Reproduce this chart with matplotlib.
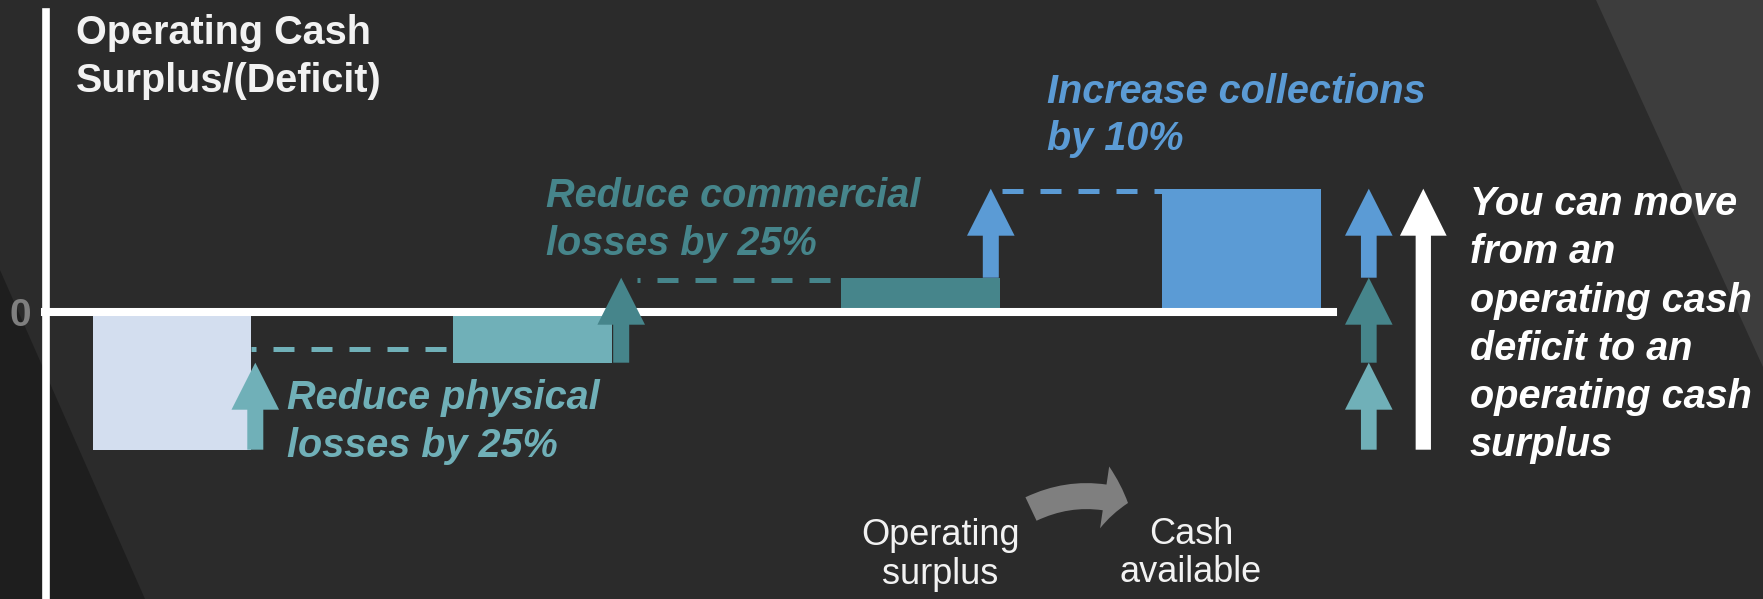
import matplotlib.pyplot as plt
from matplotlib.patches import Polygon, FancyArrowPatch
from matplotlib.transforms import IdentityTransform

# --- chart values ---
steps = ["Current", "Physical losses", "Commercial losses", "Collections"]
start_value = -13.8
gains = [8.7, 8.5, 8.9]
guide_levels = [-3.7, 3.2, 12.05]

title_lines = ["Operating Cash", "Surplus/(Deficit)"]
step_labels = [["Reduce physical", "losses by 25%"],
               ["Reduce commercial", "losses by 25%"],
               ["Increase collections", "by 10%"]]
summary_lines = ["You can move", "from an", "operating cash",
                 "deficit to an", "operating cash", "surplus"]
flow_labels = [["Operating", "surplus"], ["Cash", "available"]]

levels = [start_value]
for g in gains:
    levels.append(levels[-1] + g)

# --- layout / style ---
W, H = 1763, 599
ZERO_PX = 311.7
PX_PER_UNIT = 10.0
bar_x = [172, 532.5, 920.5, 1241.5]
bar_w = 158.5
step_arrow_x = [255.3, 621.2, 990.8]
guide_span = [(251, 446), (637, 830), (992, 1175)]
stack_x = 1368.8
total_x = 1423.3

BG = "#2B2B2B"
colors = ["#D3DEEF", "#70B0B8", "#46858B", "#5B9BD5"]
FONT = "Liberation Sans"

fig = plt.figure(figsize=(W / 100, H / 100), dpi=100, facecolor=BG)


def fpos(x, y):
    return x / W, 1 - y / H


# background shapes
fig.add_artist(Polygon([fpos(0, 270), fpos(145, H), fpos(0, H)], closed=True,
                       transform=fig.transFigure, color="#1E1E1E", lw=0, zorder=-2))
fig.add_artist(Polygon([fpos(1596, 0), fpos(W, 0), fpos(W, 367)], closed=True,
                       transform=fig.transFigure, color="#3D3D3D", lw=0, zorder=-2))

ax = fig.add_axes([0, 0, 1, 1])
ax.patch.set_alpha(0)
ax.set_xlim(0, W)
ax.set_ylim(-(H - ZERO_PX) / PX_PER_UNIT, ZERO_PX / PX_PER_UNIT)

for s in ["top", "right"]:
    ax.spines[s].set_visible(False)
ax.spines["left"].set_position(("data", 45.5))
ax.spines["left"].set_bounds(-(H - ZERO_PX) / PX_PER_UNIT, (ZERO_PX - 12) / PX_PER_UNIT)
ax.spines["left"].set_linewidth(5.5)
ax.spines["left"].set_color("white")
ax.spines["bottom"].set_position(("data", 0))
ax.spines["bottom"].set_bounds(45, 1333)
ax.spines["bottom"].set_linewidth(5.8)
ax.spines["bottom"].set_color("white")
ax.set_xticks([])
ax.set_yticks([0])
ax.set_yticklabels(["0"], fontsize=28, fontweight="bold", color="#7F7F7F", family=FONT)
ax.tick_params(axis="y", length=0, pad=10)

# waterfall bars
ax.bar(bar_x, levels, width=bar_w, color=colors, linewidth=0, zorder=2)

# step arrows and dashed guides
for i, g in enumerate(gains):
    ax.arrow(step_arrow_x[i], levels[i], 0, g, width=16, head_width=47.6,
             head_length=4.7, length_includes_head=True, color=colors[i + 1],
             lw=0, zorder=3)
    x0, x1 = guide_span[i]
    ax.plot([x1, x0], [guide_levels[i]] * 2, color=colors[i + 1], lw=3.6,
            dashes=(4.2, 3.4), zorder=1.5)

# stacked summary arrows
y = start_value
for i, g in enumerate(gains):
    ax.arrow(stack_x, y, 0, g, width=15.7, head_width=47.6, head_length=4.7,
             length_includes_head=True, color=colors[i + 1], lw=0, zorder=3)
    y += g
ax.arrow(total_x, start_value, 0, levels[-1] - start_value, width=15.3,
         head_width=46.7, head_length=4.7, length_includes_head=True,
         color="white", lw=0, zorder=3)


def label(lines, x, y0, dy, **kw):
    for k, line in enumerate(lines):
        fx, fy = fpos(x, y0 + k * dy)
        fig.text(fx, fy, line, va="baseline", family=FONT, **kw)


label(title_lines, 76, 44.3, 47.4, fontsize=28.5, fontweight="bold", color="#F2F2F2")
label(step_labels[0], 287.3, 409.3, 48, fontsize=28.5, fontweight="bold",
      style="italic", color=colors[1])
label(step_labels[1], 546, 206.7, 48.3, fontsize=28.5, fontweight="bold",
      style="italic", color=colors[2])
label(step_labels[2], 1046.7, 103.3, 46.7, fontsize=28.5, fontweight="bold",
      style="italic", color=colors[3])
label(summary_lines, 1469.7, 215, 48.3, fontsize=28.5, fontweight="bold",
      style="italic", color="white")
label(flow_labels[0], 940.3, 545, 38.5, fontsize=26, color="#F2F2F2", ha="center")
label(flow_labels[1], 1191, 544, 38.5, fontsize=26, color="#F2F2F2", ha="center")

# curved grey arrow between the bottom labels
fig.add_artist(FancyArrowPatch(
    posA=(1031, H - 509), posB=(1128, H - 503), transform=IdentityTransform(),
    arrowstyle="simple,head_length=1.73,head_width=4.5,tail_width=1.87",
    connectionstyle="arc3,rad=-0.2", mutation_scale=10, shrinkA=0, shrinkB=0,
    color="#7F7F7F", lw=0))

fig.savefig("out.png", dpi=100, facecolor=BG)
